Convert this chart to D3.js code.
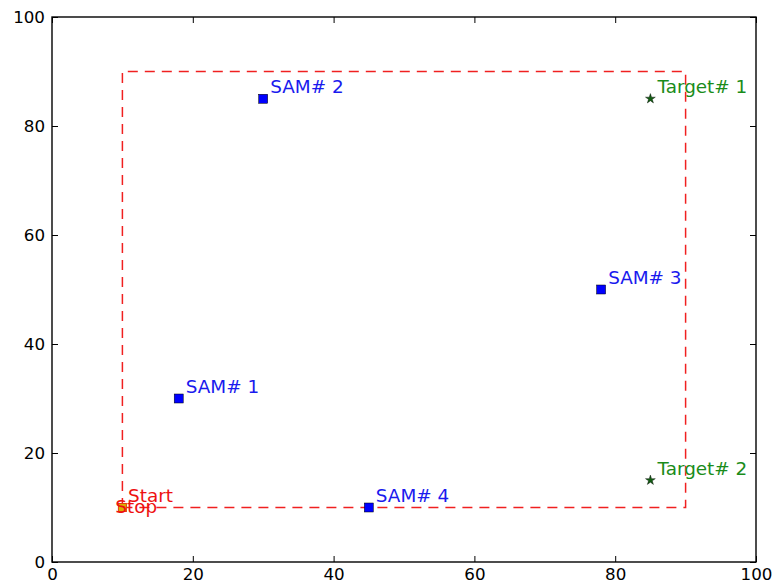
<!DOCTYPE html>
<html>
<head>
<meta charset="utf-8">
<script src="https://cdn.jsdelivr.net/npm/d3@7"></script>
<style>
  body { margin: 0; background: #fff; }
  text { font-family: "DejaVu Sans", sans-serif; }
</style>
</head>
<body>
<div id="chart"></div>
<script>
// route (dashed rectangle), start and stop
const routeX = [10, 90, 90, 10, 10];
const routeY = [10, 10, 90, 90, 10];

// SAM sites
const samNames = ["SAM# 1", "SAM# 2", "SAM# 3", "SAM# 4"];
const samX = [18, 30, 78, 45];
const samY = [30, 85, 50, 10];

// targets
const targetNames = ["Target# 1", "Target# 2"];
const targetX = [85, 85];
const targetY = [85, 15];

// start / stop labels
const endNames = ["Start", "Stop"];
const endX = [10.8, 9];
const endY = [11, 9];

const tickValues = [0, 20, 40, 60, 80, 100];

const chart = {
  width: 776,
  height: 587,
  top: 17,
  right: 20,
  bottom: 25,
  left: 52,
};

const labelSize = 18.4;

const svg = d3
  .select("#chart")
  .append("svg")
  .attr("width", chart.width)
  .attr("height", chart.height);

var x = d3
  .scaleLinear()
  .domain([0, 100])
  .range([chart.left, chart.width - chart.right]);

var y = d3
  .scaleLinear()
  .domain([0, 100])
  .range([chart.height - chart.bottom, chart.top]);

/* axes: classic style, ticks pointing inward on every side */
const fontSize = 16.7;
function styleAxis(g) {
  g.select(".domain").remove();
  g.selectAll(".tick line").attr("stroke", "#000").attr("stroke-width", 1);
  g.selectAll(".tick text").attr("font-size", fontSize).attr("fill", "#000");
}

svg.append("g")
  .attr("transform", `translate(0, ${y(0)})`)
  .call(d3.axisBottom(x).tickValues(tickValues).tickSizeInner(-6).tickSizeOuter(0).tickPadding(7))
  .call(styleAxis)
  .call((g) => g.selectAll(".tick text").attr("dy", "0.71em").attr("y", 6));

svg.append("g")
  .attr("transform", `translate(${x(0)}, 0)`)
  .call(d3.axisLeft(y).tickValues(tickValues).tickSizeInner(-6).tickSizeOuter(0).tickPadding(7))
  .call(styleAxis)
  .call((g) => g.selectAll(".tick text").attr("x", -7));

svg.append("g")
  .attr("transform", `translate(0, ${y(100)})`)
  .call(d3.axisTop(x).tickValues(tickValues).tickSizeInner(-6).tickSizeOuter(0).tickFormat(""))
  .call(styleAxis);

svg.append("g")
  .attr("transform", `translate(${x(100)}, 0)`)
  .call(d3.axisRight(y).tickValues(tickValues).tickSizeInner(-6).tickSizeOuter(0).tickFormat(""))
  .call(styleAxis);

svg.append("rect")
  .attr("x", x(0))
  .attr("y", y(100))
  .attr("width", x(100) - x(0))
  .attr("height", y(0) - y(100))
  .attr("fill", "none")
  .attr("stroke", "#000")
  .attr("stroke-width", 1.4);

/* route */
const route = d3.range(routeX.length).map((i) => [routeX[i], routeY[i]]);
svg.append("path")
  .datum(route)
  .attr("fill", "none")
  .attr("stroke", "#f02020")
  .attr("stroke-width", 1.5)
  .attr("stroke-dasharray", "10,7")
  .attr("d", d3.line().x((d) => x(d[0])).y((d) => y(d[1])));

/* start / stop marker */
svg.append("rect")
  .attr("x", x(routeX[0]) - 4)
  .attr("y", y(routeY[0]) - 4)
  .attr("width", 8)
  .attr("height", 8)
  .attr("fill", "#d8b000")
  .attr("stroke", "#e04010")
  .attr("stroke-width", 1);

svg.append("g")
  .selectAll("text")
  .data(endNames)
  .join("text")
  .attr("x", (d, i) => x(endX[i]))
  .attr("y", (d, i) => y(endY[i]))
  .attr("font-size", labelSize)
  .attr("fill", "#ee1111")
  .text((d) => d);

/* SAM sites */
svg.append("g")
  .selectAll("rect")
  .data(samNames)
  .join("rect")
  .attr("x", (d, i) => x(samX[i]) - 4.5)
  .attr("y", (d, i) => y(samY[i]) - 4.5)
  .attr("width", 9)
  .attr("height", 9)
  .attr("fill", "#0000ff")
  .attr("stroke", "#000")
  .attr("stroke-width", 0.5);

svg.append("g")
  .selectAll("text")
  .data(samNames)
  .join("text")
  .attr("x", (d, i) => x(samX[i] + 1))
  .attr("y", (d, i) => y(samY[i] + 1))
  .attr("font-size", labelSize)
  .attr("fill", "#1a1aee")
  .text((d) => d);

/* targets */
svg.append("g")
  .selectAll("path")
  .data(targetNames)
  .join("path")
  .attr("transform", (d, i) => `translate(${x(targetX[i])}, ${y(targetY[i])})`)
  .attr("d", d3.symbol(d3.symbolStar, 30))
  .attr("fill", "#125c12")
  .attr("stroke", "#000")
  .attr("stroke-width", 0.4);

svg.append("g")
  .selectAll("text")
  .data(targetNames)
  .join("text")
  .attr("x", (d, i) => x(targetX[i] + 1))
  .attr("y", (d, i) => y(targetY[i] + 1))
  .attr("font-size", labelSize)
  .attr("fill", "#1a8c1a")
  .text((d) => d);
</script>
</body>
</html>
